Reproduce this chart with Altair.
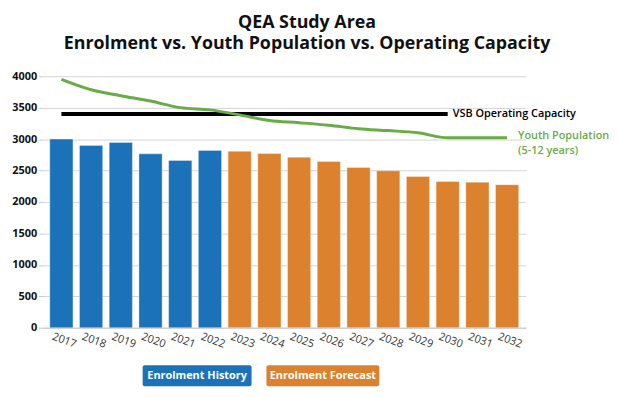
import altair as alt
import pandas as pd

years = [str(y) for y in range(2017, 2033)]
enrolment = [3000, 2900, 2945, 2765, 2660, 2820, 2805, 2770, 2710, 2645, 2550, 2495, 2405, 2325, 2315, 2275]
phase = ["Enrolment History"] * 6 + ["Enrolment Forecast"] * 10
youth = [3950, 3785, 3690, 3605, 3500, 3465, 3385, 3295, 3260, 3220, 3165, 3135, 3100, 3020, 3020, 3020]
cap_years = years[:14]
capacity = [3400] * 14
y_ticks = [0, 500, 1000, 1500, 2000, 2500, 3000, 3500, 4000]
title_lines = ["QEA Study Area", "Enrolment vs. Youth Population vs. Operating Capacity"]

FONT = "Open Sans"
BLUE = "#1b72b8"
ORANGE = "#dc822e"
GREEN = "#69ab47"

bars_df = pd.DataFrame({"year": years, "value": enrolment, "phase": phase})
youth_df = pd.DataFrame({"year": years, "value": youth})
cap_df = pd.DataFrame({"year": cap_years, "value": capacity})

xscale = alt.Scale(domain=years, paddingInner=0.22, paddingOuter=0.24)
yscale = alt.Scale(domain=[0, 4000], nice=False)

x_axis = alt.Axis(labelAngle=20, labelAlign="center", labelBaseline="top",
                  labelPadding=7, labelOffset=5, ticks=False, domainColor="#c8c8c8",
                  labelFont=FONT, labelFontSize=11, labelColor="#333333")
y_axis = alt.Axis(values=y_ticks, format="d", grid=True, gridColor="#d4d4d4", domain=False,
                  ticks=True, tickSize=4, tickColor="#c8c8c8", labelPadding=2,
                  labelFont=FONT, labelFontSize=11, labelOverlap=False,
                  labelFontWeight="bold", labelColor="#111111")


def xe():
    return alt.X("year:O", scale=xscale, sort=years, title=None, axis=x_axis)


def ye():
    return alt.Y("value:Q", scale=yscale, title=None, axis=y_axis)


bars = alt.Chart(bars_df).mark_bar(stroke="white", strokeOpacity=0.35, strokeWidth=1).encode(
    x=xe(), y=ye(),
    color=alt.Color("phase:N", scale=alt.Scale(domain=["Enrolment History", "Enrolment Forecast"],
                                               range=[BLUE, ORANGE]), legend=None),
)

cap_line = alt.Chart(cap_df).mark_line(color="black", strokeWidth=4).encode(x=xe(), y=ye())

youth_line = alt.Chart(youth_df).mark_line(color=GREEN, strokeWidth=3, interpolate="monotone").encode(
    x=xe(), y=ye()
)

cap_label = alt.Chart(cap_df.tail(1)).mark_text(
    align="left", baseline="middle", dx=5, font=FONT, fontSize=11, fontWeight=600, color="black"
).encode(x=xe(), y=ye(), text=alt.value("VSB Operating Capacity"))

youth_label = alt.Chart(youth_df.tail(1)).mark_text(
    align="left", baseline="middle", dx=11, dy=-2, font=FONT, fontSize=11, fontWeight=600,
    color=GREEN, lineHeight=15
).encode(x=xe(), y=ye(), text=alt.value(["Youth Population", "(5-12 years)"]))

one = pd.DataFrame({"k": [0]})
title1 = alt.Chart(one).mark_text(font=FONT, fontSize=18, fontWeight="bold", color="#111111",
                                  align="center", baseline="middle").encode(
    x=alt.value(267), y=alt.value(-54), text=alt.value(title_lines[0]))
title2 = alt.Chart(one).mark_text(font=FONT, fontSize=18, fontWeight="bold", color="#111111",
                                  align="center", baseline="middle").encode(
    x=alt.value(267), y=alt.value(-32), text=alt.value(title_lines[1]))

leg_box1 = alt.Chart(one).mark_rect(color=BLUE, cornerRadius=2).encode(
    x=alt.value(101), x2=alt.value(211), y=alt.value(292), y2=alt.value(313))
leg_box2 = alt.Chart(one).mark_rect(color=ORANGE, cornerRadius=2).encode(
    x=alt.value(226), x2=alt.value(340), y=alt.value(292), y2=alt.value(313))
leg_txt1 = alt.Chart(one).mark_text(font=FONT, fontSize=11, fontWeight="bold", color="white",
                                    align="center", baseline="middle").encode(
    x=alt.value(156), y=alt.value(302.5), text=alt.value("Enrolment History"))
leg_txt2 = alt.Chart(one).mark_text(font=FONT, fontSize=11, fontWeight="bold", color="white",
                                    align="center", baseline="middle").encode(
    x=alt.value(283), y=alt.value(302.5), text=alt.value("Enrolment Forecast"))

chart = alt.layer(
    bars, cap_line, youth_line, cap_label, youth_label,
    title1, title2, leg_box1, leg_box2, leg_txt1, leg_txt2
).properties(
    width=488, height=254, autosize="none",
    padding={"left": 35, "top": 67, "right": 85, "bottom": 60},
).configure_view(stroke=None)

chart.save("out.html", embed_options={"renderer": "svg", "actions": False})
